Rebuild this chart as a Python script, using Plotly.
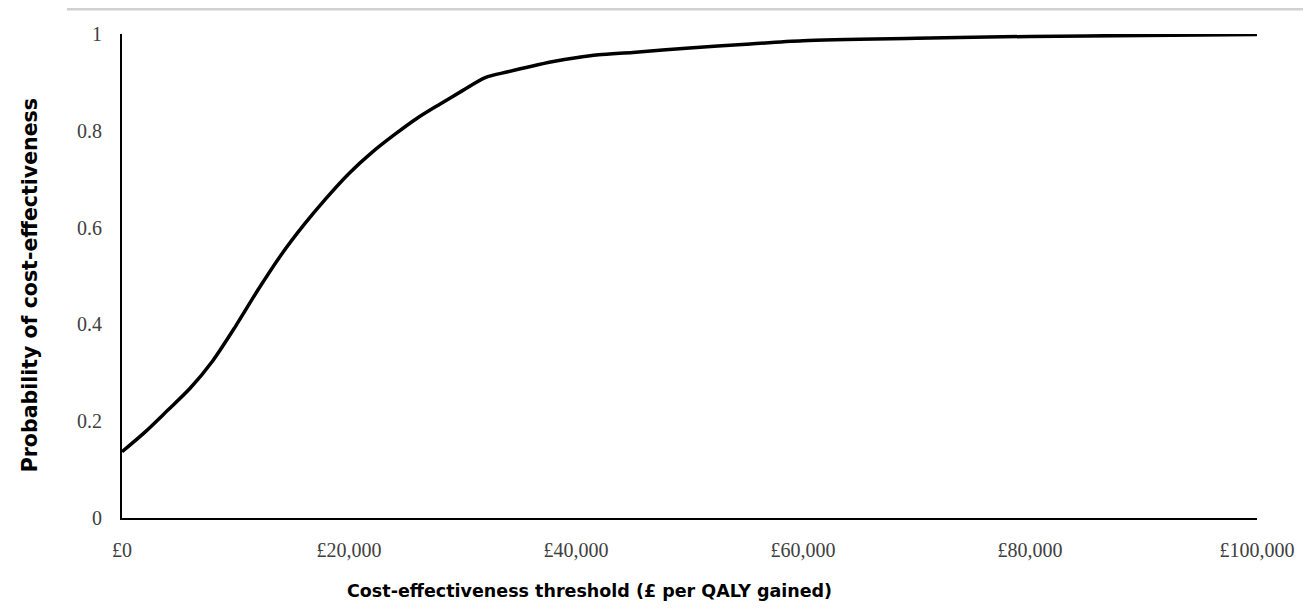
import plotly.graph_objects as go

# Data
thresholds = [0, 2000, 4000, 6000, 8000, 10000, 12000, 14000, 16000, 18000, 20000,
              22000, 24000, 26000, 28000, 30000, 32000, 34000, 36000, 38000, 40000,
              42000, 45000, 50000, 55000, 60000, 70000, 80000, 90000, 100000]
probability = [0.137, 0.177, 0.222, 0.268, 0.325, 0.396, 0.472, 0.543, 0.605, 0.661, 0.712,
               0.755, 0.792, 0.826, 0.855, 0.883, 0.910, 0.922, 0.933, 0.943, 0.951,
               0.957, 0.962, 0.971, 0.979, 0.986, 0.991, 0.995, 0.997, 0.999]

x_tickvals = [0, 20000, 40000, 60000, 80000, 100000]
x_ticktext = ["£0", "£20,000", "£40,000", "£60,000", "£80,000", "£100,000"]
y_tickvals = [0, 0.2, 0.4, 0.6, 0.8, 1]
y_ticktext = ["0", "0.2", "0.4", "0.6", "0.8", "1"]

x_title = "Cost-effectiveness threshold (£ per QALY gained)"
y_title = "Probability of cost-effectiveness"

fig = go.Figure()
fig.add_trace(go.Scatter(
    x=thresholds, y=probability, mode="lines",
    line=dict(color="#000000", width=3.5, shape="spline", smoothing=0.8),
    showlegend=False, hoverinfo="skip",
))

tick_font = dict(family="Liberation Serif", size=20, color="#404040")
x_title_font = dict(family="DejaVu Sans", size=17.5, color="#000000")
y_title_font = dict(family="DejaVu Sans", size=20.5, color="#000000")

fig.update_layout(
    width=1311, height=610,
    margin=dict(l=114, r=62, t=26, b=100),
    paper_bgcolor="white", plot_bgcolor="white",
    xaxis=dict(range=[0, 100000], tickvals=x_tickvals, ticktext=x_ticktext,
               showline=True, linecolor="#000000", linewidth=2, showgrid=False,
               zeroline=False, ticks="", tickfont=tick_font, ticklabelstandoff=13),
    yaxis=dict(range=[0, 1], tickvals=y_tickvals, ticktext=y_ticktext,
               showline=True, linecolor="#000000", linewidth=2, showgrid=False,
               zeroline=False, ticks="", tickfont=tick_font, ticklabelstandoff=14),
    annotations=[
        dict(text="<b>" + x_title + "</b>", xref="paper", yref="paper",
             x=0.4115, y=-0.151, showarrow=False, font=x_title_font,
             xanchor="center", yanchor="middle"),
        dict(text="<b>" + y_title + "</b>", xref="paper", yref="paper",
             x=-0.081, y=0.481, showarrow=False, font=y_title_font, textangle=-90,
             xanchor="center", yanchor="middle"),
    ],
    shapes=[
        dict(type="line", xref="paper", yref="paper",
             x0=-0.0485, x1=1.0476, y0=1.052, y1=1.052,
             line=dict(color="#d0d0d0", width=3.5)),
    ],
)

fig.write_html("out.html")
